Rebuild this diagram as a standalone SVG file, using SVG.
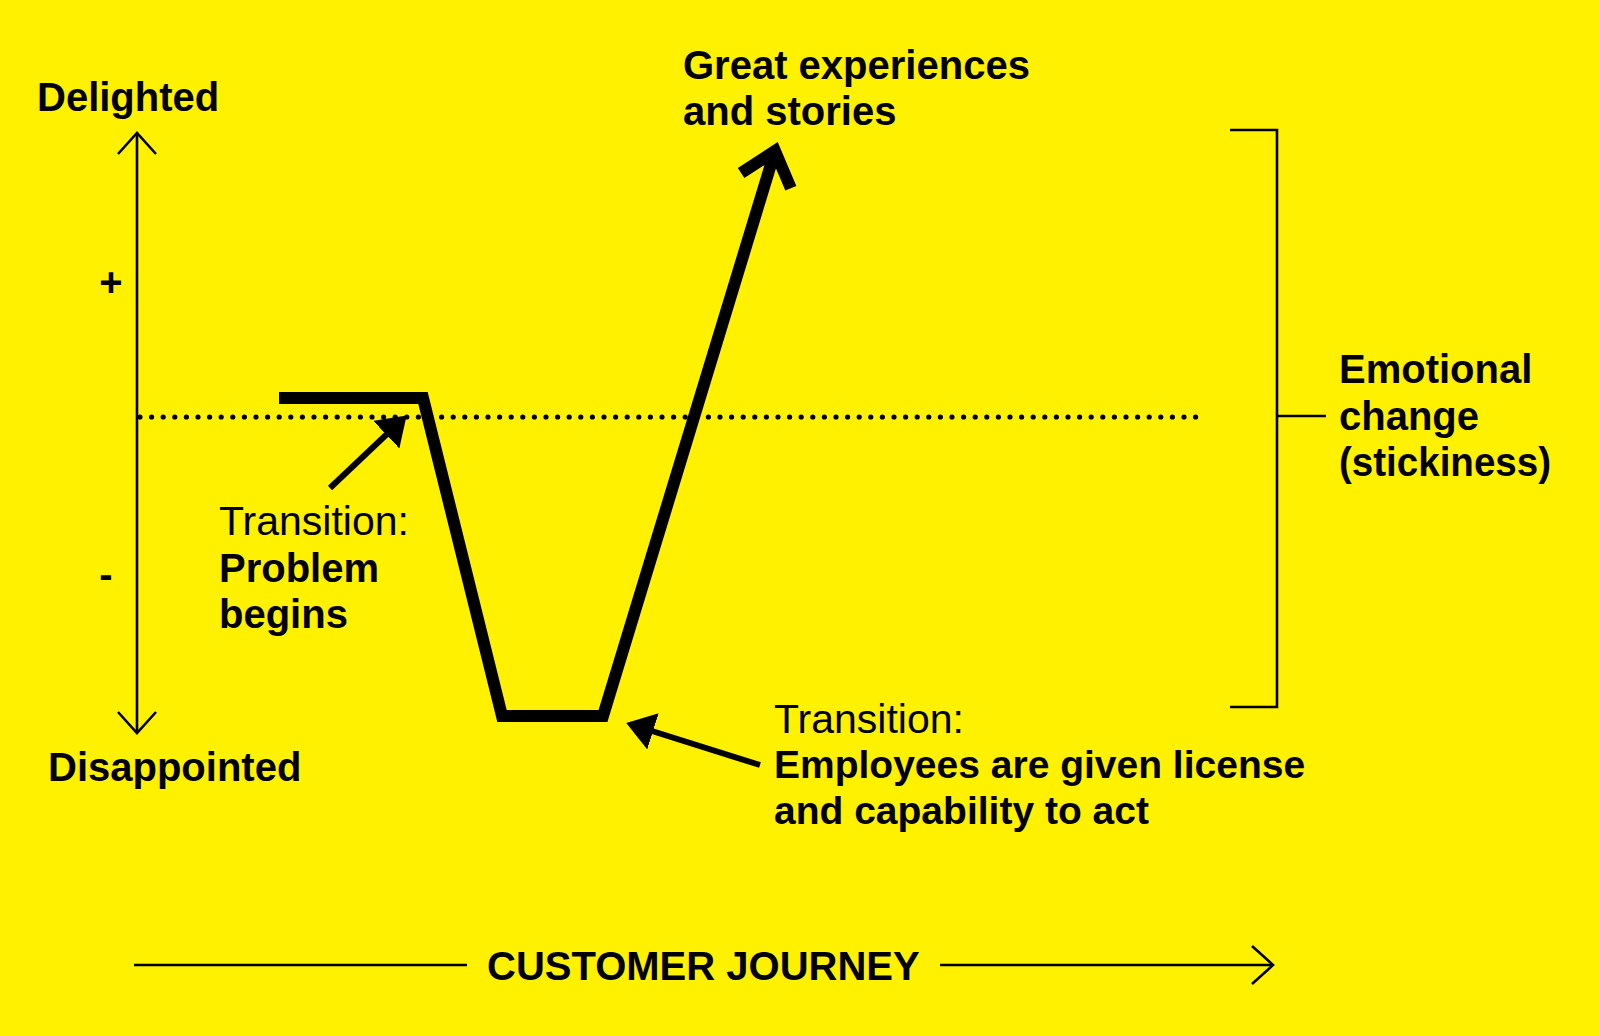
<svg xmlns="http://www.w3.org/2000/svg" width="1600" height="1036" viewBox="0 0 1600 1036">
<style>
.b{font-family:"Liberation Sans",Arial,sans-serif;font-weight:bold;font-size:40px;fill:#000}
.r{font-family:"Liberation Sans",Arial,sans-serif;font-weight:normal;font-size:41px;fill:#000}
.thin{stroke:#000;stroke-width:2.6;fill:none}
.thick{stroke:#000;stroke-width:12;fill:none;stroke-linejoin:miter;stroke-linecap:butt}
.ptr{stroke:#000;stroke-width:6;fill:none}
.dots{stroke:#000;stroke-width:5.2;stroke-linecap:round;stroke-dasharray:0 11.6;fill:none}
</style>
<defs>
<marker id="chev" markerUnits="userSpaceOnUse" viewBox="-26 -23 30 46" refX="0" refY="0" markerWidth="30" markerHeight="46" orient="auto-start-reverse" overflow="visible">
<path d="M-21,-19 L0,0 L-21,19" fill="none" stroke="#000" stroke-width="2.6"/>
</marker>
<marker id="bigchev" markerUnits="userSpaceOnUse" viewBox="-40 -35 50 70" refX="0" refY="0" markerWidth="50" markerHeight="70" orient="auto" overflow="visible">
<path d="M-31,-26 L0,0 L-31,26" fill="none" stroke="#000" stroke-width="12" stroke-linejoin="miter"/>
</marker>
<marker id="tri" markerUnits="userSpaceOnUse" viewBox="0 0 28 38" refX="1" refY="19" markerWidth="28" markerHeight="38" orient="auto">
<path d="M0,0 L28,19 L0,38 Z" fill="#000"/>
</marker>
</defs>
<rect x="0" y="0" width="1600" height="1036" fill="#FFF100"/>

<g id="connectors">
<line class="dots" x1="140" y1="417" x2="1197" y2="417"/>
<line id="y-axis" class="thin" x1="137" y1="133" x2="137" y2="733" marker-start="url(#chev)" marker-end="url(#chev)"/>
<line id="x-axis-left" class="thin" x1="134" y1="965" x2="467" y2="965"/>
<line id="x-axis-right" class="thin" x1="940" y1="965" x2="1273" y2="965" marker-end="url(#chev)"/>
<polyline id="journey" class="thick" points="279,398 423,398 502,716 603,716 775,151" marker-end="url(#bigchev)"/>
<line id="ptr-problem" class="ptr" x1="330" y1="488" x2="387" y2="434" marker-end="url(#tri)"/>
<line id="ptr-employees" class="ptr" x1="760" y1="765" x2="652" y2="731" marker-end="url(#tri)"/>
<polyline id="bracket" class="thin" points="1230,130 1277,130 1277,707 1230,707"/>
<line id="bracket-tick" class="thin" x1="1277" y1="416" x2="1326" y2="416"/>
</g>

<g id="label-delighted"><text class="b" x="37" y="111">Delighted</text></g>
<g id="label-plus"><text class="b" x="111" y="296" text-anchor="middle">+</text></g>
<g id="label-minus"><text class="b" x="106" y="588" text-anchor="middle">-</text></g>
<g id="label-disappointed"><text class="b" x="48" y="781">Disappointed</text></g>
<g id="label-problem">
<text class="r" x="219" y="535">Transition:</text>
<text class="b" x="219" y="582">Problem</text>
<text class="b" x="219" y="628">begins</text>
</g>
<g id="label-great">
<text class="b" x="683" y="79">Great experiences</text>
<text class="b" x="683" y="125">and stories</text>
</g>
<g id="label-emotional">
<text class="b" x="1339" y="383">Emotional</text>
<text class="b" x="1339" y="430">change</text>
<text class="b" x="1339" y="476" textLength="212" lengthAdjust="spacingAndGlyphs">(stickiness)</text>
</g>
<g id="label-employees">
<text class="r" x="774" y="733">Transition:</text>
<text class="b" x="774" y="778" style="font-size:39px">Employees are given license</text>
<text class="b" x="774" y="824" style="font-size:39px">and capability to act</text>
</g>
<g id="label-journey"><text class="b" x="487" y="980">CUSTOMER JOURNEY</text></g>
</svg>
